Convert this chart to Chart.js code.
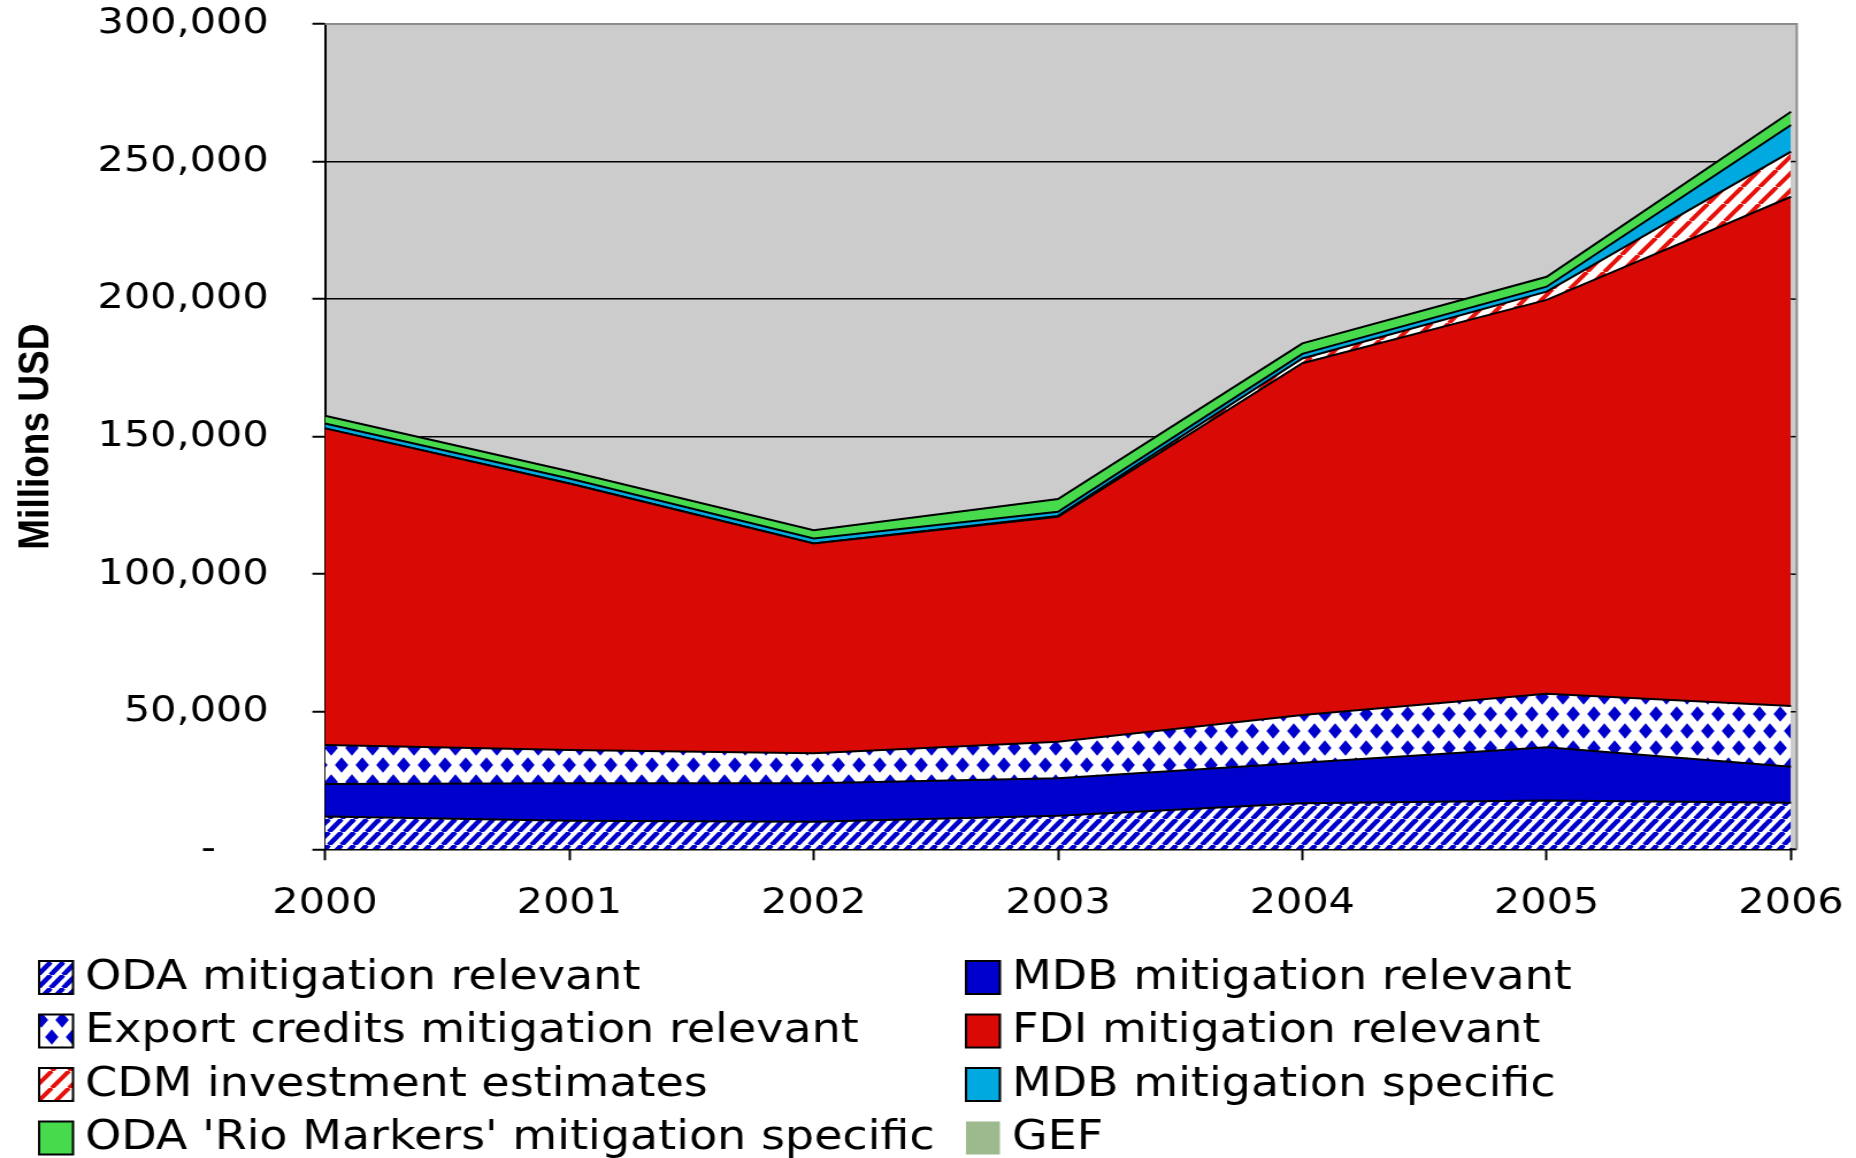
<!DOCTYPE html>
<html>
<head>
<meta charset="utf-8">
<script src="https://cdn.jsdelivr.net/npm/chart.js@4.4.1/dist/chart.umd.min.js"></script>
<style>
    html, body { margin: 0; padding: 0; background: #fff; overflow: hidden; }
    #wrap { width: 1856px; height: 1158px; overflow: hidden; }
    #c { display: block; width: 1614px; height: 1158px; transform: scaleX(1.15); transform-origin: 0 0; }
</style>
</head>
<body>
<div id="wrap"><canvas id="c" width="1614" height="1158"></canvas></div>
<script>
const years = ['2000', '2001', '2002', '2003', '2004', '2005', '2006'];

const odaRelevant = [11900, 10400, 10000, 12200, 16700, 17700, 16900];
const mdbRelevant = [11800, 13600, 14000, 13600, 14800, 19400, 13100];
const exportCredits = [14200, 12100, 10900, 13300, 17300, 19400, 22100];
const fdiRelevant = [115100, 96900, 76300, 81800, 127900, 143200, 185100];
const cdmEstimates = [0, 0, 0, 300, 1700, 3000, 16400];
const mdbSpecific = [1800, 1800, 1800, 1500, 1700, 1800, 9700];
const odaRioMarkers = [2800, 2600, 3000, 4600, 3800, 3600, 4800];
const gef = [200, 200, 200, 200, 250, 250, 300];

const yTicks = [0, 50000, 100000, 150000, 200000, 250000, 300000];

// the source picture is a bit wider than tall, so draw narrow and stretch
const STRETCH = 1.15;
const W = 1614;
const H = 1158;
const X_AXIS_H = 110;

Chart.defaults.font.family = "'DejaVu Sans', Verdana, sans-serif";
Chart.defaults.color = '#000';

const canvas = document.getElementById('c');
const ctx = canvas.getContext('2d');

function hatch(color, lineWidth, w, h) {
    const tile = document.createElement('canvas');
    tile.width = w;
    tile.height = h;
    const t = tile.getContext('2d');
    t.fillStyle = '#fff';
    t.fillRect(0, 0, w, h);
    t.strokeStyle = color;
    t.lineWidth = lineWidth;
    [-w, 0, w].forEach((x0) => {
        t.beginPath();
        t.moveTo(x0, h);
        t.lineTo(x0 + w, 0);
        t.stroke();
    });
    return ctx.createPattern(tile, 'repeat');
}

function diamonds(color) {
    const w = 18;
    const h = 34;
    const dw = 5.8;
    const dh = 7.8;
    const tile = document.createElement('canvas');
    tile.width = w;
    tile.height = h;
    const t = tile.getContext('2d');
    t.fillStyle = '#fff';
    t.fillRect(0, 0, w, h);
    t.fillStyle = color;
    [[0, 0], [w, 0], [0, h], [w, h], [w / 2, h / 2]].forEach(([cx, cy]) => {
        t.beginPath();
        t.moveTo(cx, cy - dh);
        t.lineTo(cx + dw, cy);
        t.lineTo(cx, cy + dh);
        t.lineTo(cx - dw, cy);
        t.closePath();
        t.fill();
    });
    return ctx.createPattern(tile, 'repeat');
}

const series = [
    { label: 'ODA mitigation relevant', data: odaRelevant, fill: hatch('#0000cc', 4.4, 11, 13) },
    { label: 'MDB mitigation relevant', data: mdbRelevant, fill: '#0000cc' },
    { label: 'Export credits mitigation relevant', data: exportCredits, fill: diamonds('#0000cc') },
    { label: 'FDI mitigation relevant', data: fdiRelevant, fill: '#d90a05' },
    { label: 'CDM investment estimates', data: cdmEstimates, fill: hatch('#e8100b', 4, 15, 17) },
    { label: 'MDB mitigation specific', data: mdbSpecific, fill: '#00a9e0' },
    { label: "ODA 'Rio Markers' mitigation specific", data: odaRioMarkers, fill: '#47da4d' },
    { label: 'GEF', data: gef, fill: '#9dba8e', noBorder: true },
];

const EXTRA = 5;

const plotFrame = {
    id: 'plotFrame',
    beforeDraw(chart) {
        const { ctx: c, chartArea: a } = chart;
        c.save();
        c.fillStyle = '#cccccc';
        c.fillRect(a.left, a.top, a.right - a.left + EXTRA, a.bottom - a.top);
        c.restore();
    },
    afterDatasetsDraw(chart) {
        const { ctx: c, chartArea: a, scales } = chart;
        c.save();
        c.strokeStyle = '#000';
        c.lineWidth = 1.5;
        yTicks.slice(1, -1).forEach((v) => {
            const y = scales.y.getPixelForValue(v);
            c.beginPath();
            c.moveTo(a.right, y);
            c.lineTo(a.right + EXTRA, y);
            c.stroke();
        });
        c.lineWidth = 2;
        c.beginPath();
        c.moveTo(a.right, a.bottom);
        c.lineTo(a.right + EXTRA, a.bottom);
        c.stroke();
        c.strokeStyle = '#8c8c8c';
        c.beginPath();
        c.moveTo(a.left, a.top);
        c.lineTo(a.right + EXTRA, a.top);
        c.lineTo(a.right + EXTRA, a.bottom);
        c.stroke();
        c.restore();
    },
};

const boxLegend = {
    id: 'boxLegend',
    afterDraw(chart) {
        const c = chart.ctx;
        const colX = [34, 840];
        const rowY = [977.5, 1031, 1084.5, 1138];
        c.save();
        c.font = "40px 'DejaVu Sans'";
        c.textBaseline = 'middle';
        c.textAlign = 'left';
        chart.data.datasets.forEach((ds, i) => {
            const x = colX[i % 2];
            const y = rowY[Math.floor(i / 2)];
            c.fillStyle = ds.backgroundColor;
            c.fillRect(x, y - 16.5, 29.5, 33);
            if (!series[i].noBorder) {
                c.strokeStyle = '#000';
                c.lineWidth = 2;
                c.strokeRect(x, y - 16.5, 29.5, 33);
            }
            c.fillStyle = '#000';
            c.fillText(ds.label, x + 40, y + 1);
        });
        c.restore();
    },
};

new Chart(canvas, {
    type: 'line',
    data: {
        labels: years,
        datasets: series.map((s, i) => ({
            label: s.label,
            data: s.data,
            backgroundColor: s.fill,
            borderColor: '#000',
            borderWidth: s.noBorder ? 0 : 2,
            fill: i === 0 ? 'origin' : '-1',
            pointRadius: 0,
            tension: 0,
        })),
    },
    options: {
        responsive: false,
        animation: false,
        events: [],
        layout: {
            padding: { top: 24, right: W - 1557.4, bottom: H - 849.3 - X_AXIS_H, left: 0 },
        },
        plugins: {
            legend: { display: false },
            tooltip: { enabled: false },
        },
        scales: {
            x: {
                offset: false,
                grid: { drawOnChartArea: false, tickLength: 11, tickColor: '#000', tickWidth: 2 },
                border: { color: '#000', width: 2 },
                ticks: { padding: 22, font: { size: 36 }, color: '#000', maxRotation: 0 },
                afterFit: (scale) => {
                    scale.height = X_AXIS_H;
                    scale.paddingLeft = 0;
                    scale.paddingRight = 0;
                },
            },
            y: {
                stacked: true,
                min: 0,
                max: 300000,
                afterBuildTicks: (scale) => { scale.ticks = yTicks.map((v) => ({ value: v })); },
                ticks: {
                    padding: 38,
                    font: { size: 36 },
                    color: '#000',
                    callback: (value) => (value === 0 ? '-    ' : value.toLocaleString('en-US')),
                },
                grid: {
                    color: (c) => (c.tick && c.tick.value === 300000 ? '#8c8c8c' : '#000'),
                    lineWidth: 1.5,
                    tickLength: 11,
                    tickColor: '#000',
                    tickWidth: 2,
                },
                border: { color: '#000', width: 2 },
                title: {
                    display: true,
                    text: 'Millions USD',
                    font: { family: "'Liberation Sans', Arial, sans-serif", weight: 'bold', size: 37 },
                    color: '#000',
                    padding: { top: 10, bottom: 0 },
                },
                afterFit: (scale) => {
                    scale.width = 282.6;
                    scale.paddingTop = 0;
                    scale.paddingBottom = 0;
                },
            },
        },
    },
    plugins: [plotFrame, boxLegend],
});
</script>
</body>
</html>
